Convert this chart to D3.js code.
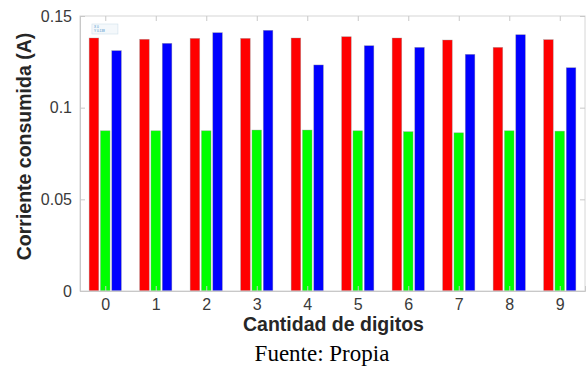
<!DOCTYPE html>
<html>
<head>
<meta charset="utf-8">
<script src="https://cdn.jsdelivr.net/npm/d3@7/dist/d3.min.js"></script>
<style>
  html, body { margin: 0; padding: 0; background: #fff; }
  svg { display: block; }
</style>
</head>
<body>
<svg id="chart" width="587" height="366"></svg>
<script>
// Current draw per number of displayed digits (A)
const categories = [0, 1, 2, 3, 4, 5, 6, 7, 8, 9];
const serieRoja  = [0.1380, 0.1373, 0.1378, 0.1378, 0.1380, 0.1387, 0.1380, 0.1369, 0.1329, 0.1371];
const serieVerde = [0.0874, 0.0874, 0.0874, 0.0878, 0.0878, 0.0874, 0.0869, 0.0863, 0.0874, 0.0872];
const serieAzul  = [0.1311, 0.1351, 0.1409, 0.1422, 0.1233, 0.1338, 0.1329, 0.1291, 0.1398, 0.1218];
const yTicks = [0, 0.05, 0.1, 0.15];
const yTickLabels = ["0", "0.05", "0.1", "0.15"];

const series = [
  { values: serieRoja,  color: "#ff0000", offset: -0.224 },
  { values: serieVerde, color: "#00ff00", offset: 0 },
  { values: serieAzul,  color: "#0000ff", offset: 0.224 }
];
const barWidth = 0.19;

const svg = d3.select("#chart");
const plotLeft = 80, plotRight = 585, plotTop = 16, plotBottom = 291;

const x = d3.scaleLinear().domain([-0.5, 9.5]).range([plotLeft, plotRight]);
const y = d3.scaleLinear().domain([0, 0.15]).range([plotBottom, plotTop]);

// bars
series.forEach(s => {
  svg.append("g").selectAll("rect")
    .data(categories)
    .join("rect")
    .attr("x", d => x(d + s.offset - barWidth / 2))
    .attr("width", x(barWidth) - x(0))
    .attr("y", (d, i) => y(s.values[i]))
    .attr("height", (d, i) => y(0) - y(s.values[i]))
    .attr("fill", s.color)
    .attr("stroke", "#9a9a9a")
    .attr("stroke-opacity", 0.6)
    .attr("stroke-width", 0.6);
});

// axes box
const boxColor = "#d6d6d6";
svg.append("rect")
  .attr("x", plotLeft).attr("y", plotTop)
  .attr("width", plotRight - plotLeft).attr("height", plotBottom - plotTop)
  .attr("fill", "none").attr("stroke", boxColor).attr("stroke-width", 1);

// bottom and left axis (inward ticks)
const xAxis = d3.axisBottom(x).tickValues(categories).tickSize(-5).tickPadding(8).tickFormat(d3.format("d"));
const gx = svg.append("g").attr("transform", `translate(0,${plotBottom})`).call(xAxis);
gx.select(".domain").attr("stroke", "#c8c8c8");
gx.selectAll(".tick line").attr("stroke", "#c8c8c8");
gx.selectAll("text").attr("font-family", "Liberation Sans, Arial, sans-serif")
  .attr("font-size", 16).attr("fill", "#3a3a3a");

const yAxis = d3.axisLeft(y).tickValues(yTicks).tickSize(-5).tickPadding(8)
  .tickFormat((d, i) => yTickLabels[i]);
const gy = svg.append("g").attr("transform", `translate(${plotLeft},0)`).call(yAxis);
gy.select(".domain").attr("stroke", "#c8c8c8");
gy.selectAll(".tick line").attr("stroke", "#c8c8c8");
gy.selectAll("text").attr("font-family", "Liberation Sans, Arial, sans-serif")
  .attr("font-size", 16).attr("fill", "#3a3a3a");

// mirrored ticks on top and right
const gxt = svg.append("g").attr("transform", `translate(0,${plotTop})`)
  .call(d3.axisTop(x).tickValues(categories).tickSize(-5).tickFormat(""));
gxt.select(".domain").remove();
gxt.selectAll(".tick line").attr("stroke", "#c8c8c8");
const gyr = svg.append("g").attr("transform", `translate(${plotRight},0)`)
  .call(d3.axisRight(y).tickValues(yTicks).tickSize(-5).tickFormat(""));
gyr.select(".domain").remove();
gyr.selectAll(".tick line").attr("stroke", "#c8c8c8");

// small data tip on the first bar
const tip = svg.append("g").attr("transform", `translate(${x(-0.224) - 2},${y(serieRoja[0]) - 14})`);
tip.append("rect").attr("width", 26).attr("height", 10)
  .attr("fill", "#f4f8fb").attr("stroke", "#cfe0ec").attr("stroke-width", 0.6);
tip.append("text").attr("x", 2).attr("y", 4).attr("font-size", 3.2)
  .attr("font-family", "Liberation Sans, Arial, sans-serif").attr("fill", "#3a8fc9").text("X 0");
tip.append("text").attr("x", 2).attr("y", 8).attr("font-size", 3.2)
  .attr("font-family", "Liberation Sans, Arial, sans-serif").attr("fill", "#3a8fc9").text("Y 0.138");

// axis titles
svg.append("text")
  .attr("x", 333.5).attr("y", 331)
  .attr("text-anchor", "middle")
  .attr("font-family", "Liberation Sans, Arial, sans-serif")
  .attr("font-weight", "bold").attr("font-size", 19.5).attr("fill", "#262626")
  .text("Cantidad de digitos");

svg.append("text")
  .attr("transform", `translate(31,146.5) rotate(-90)`)
  .attr("text-anchor", "middle")
  .attr("font-family", "Liberation Sans, Arial, sans-serif")
  .attr("font-weight", "bold").attr("font-size", 19.5).attr("fill", "#262626")
  .text("Corriente consumida (A)");

// source note
svg.append("text")
  .attr("x", 322).attr("y", 361)
  .attr("text-anchor", "middle")
  .attr("font-family", "Liberation Serif, 'Times New Roman', serif")
  .attr("font-size", 23).attr("fill", "#000")
  .text("Fuente: Propia");
</script>
</body>
</html>
